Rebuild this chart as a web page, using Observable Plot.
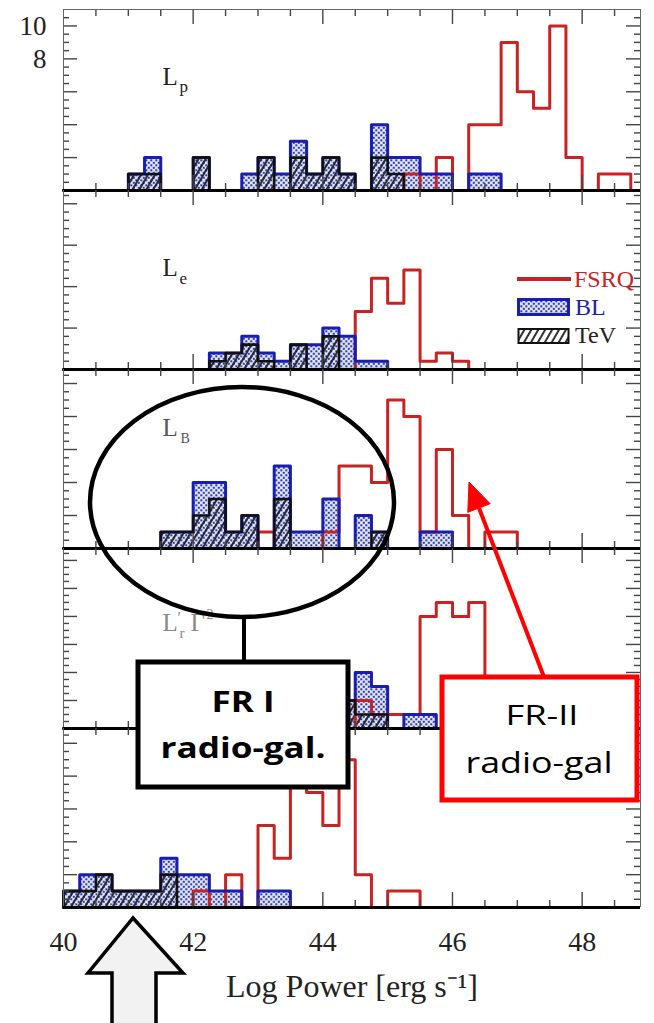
<!DOCTYPE html>
<html><head><meta charset="utf-8">
<script src="https://cdn.jsdelivr.net/npm/d3@7"></script>
<script src="https://cdn.jsdelivr.net/npm/@observablehq/plot@0.6"></script>
<style>
html,body{margin:0;padding:0;background:#fff;}
#root{position:relative;width:654px;height:1023px;overflow:hidden;background:#fff;}
</style></head><body>
<svg width="0" height="0" style="position:absolute">
<defs>
<pattern id="dots" width="5" height="5" patternUnits="userSpaceOnUse">
<rect width="5" height="5" fill="#dfe3f8"/>
<rect x="0.3" y="0.3" width="2" height="2" fill="#2f3ca6"/>
<rect x="2.8" y="2.8" width="2" height="2" fill="#2f3ca6"/>
</pattern>
<pattern id="hatch" width="6" height="6" patternUnits="userSpaceOnUse" patternTransform="rotate(30)">
<line x1="1" y1="0" x2="1" y2="6" stroke="#1a1a1a" stroke-width="1.8"/>
</pattern>
<pattern id="hatchW" width="6" height="6" patternUnits="userSpaceOnUse" patternTransform="rotate(30)">
<rect width="6" height="6" fill="#fff"/>
<line x1="1" y1="0" x2="1" y2="6" stroke="#1a1a1a" stroke-width="1.8"/>
</pattern>
</defs></svg>
<div id="root"></div>
<script>
// ---- Data: histogram counts per bin (bin start in log erg/s, bin width 0.25) ----
const binWidth = 0.25;
const binStarts = d3.range(40, 48.75, binWidth);

// Panel 1: L_p
const lpFSRQ = [[45.25,1],[45.75,2],[46.25,4],[46.5,4],[46.75,9],[47,6],[47.25,5],[47.5,10],[47.75,2],[48.25,1],[48.5,1]];
const lpBL   = [[41,1],[41.25,2],[42,2],[42.75,1],[43,2],[43.25,1],[43.5,3],[43.75,1],[44,2],[44.25,1],[44.75,4],[45,2],[45.25,2],[45.5,1],[45.75,1],[46.25,1],[46.5,1]];
const lpTeV  = [[41,1],[41.25,1],[42,2],[43,2],[43.5,2],[43.75,1],[44,2],[44.25,1],[44.75,2],[45,1]];
// Panel 2: L_e
const leFSRQ = [[44.5,7],[44.75,11],[45,8],[45.25,12],[45.5,1],[45.75,2],[46,1]];
const leBL   = [[42.25,2],[42.5,2],[42.75,4],[43,2],[43.25,1],[43.5,3],[43.75,3],[44,5],[44.25,4],[44.5,1],[44.75,1]];
const leTeV  = [[42.25,1],[42.5,2],[42.75,3],[43,1],[43.5,3],[44,4]];
// Panel 3: L_B
const lbFSRQ = [[43,1],[44,1],[44.25,5],[44.5,5],[44.75,4],[45,9],[45.25,8],[45.5,1],[45.75,6],[46,2],[46.5,1],[46.75,1]];
const lbBL   = [[41.5,1],[41.75,1],[42,4],[42.25,4],[42.5,1],[42.75,2],[43.25,5],[43.5,1],[43.75,1],[44,3],[44.5,2],[44.75,1],[45.5,1],[45.75,1]];
const lbTeV  = [[41.5,1],[41.75,1],[42,2],[42.25,3],[42.5,1],[42.75,2],[43.25,3],[44.75,1]];
// Panel 4: L'_r Gamma^2
const lrFSRQ = [[44.5,2],[44.75,1],[45,1],[45.25,1],[45.5,8],[45.75,9],[46,8],[46.25,9]];
const lrBL   = [[43,1],[43.5,2],[44,3],[44.25,2],[44.5,4],[44.75,3],[45.25,1],[45.5,1]];
const lrTeV  = [[43.5,1],[44,1],[44.25,2],[44.5,1],[44.75,1]];
// Panel 5
const ltFSRQ = [[42,1],[42.5,2],[43,5],[43.25,3],[43.5,8],[43.75,7],[44,5],[44.25,9],[44.5,2],[45,1],[45.25,1]];
const ltBL   = [[40,1],[40.25,2],[40.5,2],[40.75,1],[41,1],[41.25,1],[41.5,3],[41.75,2],[42,2],[42.25,1],[42.5,1],[43,1],[43.25,1]];
const ltTeV  = [[40,1],[40.25,1],[40.5,2],[40.75,1],[41,1],[41.25,1],[41.5,2]];

const xTickLabels = [40, 42, 44, 46, 48];
const xMajorTicks = [42, 44, 46, 48];
const yTickLabelsTop = [8, 10];
const xTitle = "Log Power [erg s\u207B\u00B9]";
const legendLabels = ["FSRQ", "BL", "TeV"];

// ---- Styling ----
const RED = "#c92222", BLUE = "#1a1eb0", BLACK = "#111";
const SERIF = "Liberation Serif, Times New Roman, serif";
const W = 654, ML = 63, MR = 14, XMAX = 48.9;
const innerW = W - ML - MR;

const panels = [
  {top: 9,   h: 181, ymax: 11,    minor: 0.5, major: 2, fsrq: lpFSRQ, bl: lpBL, tev: lpTeV,
   labels: [{t:"L", dx:99, dy:58, s:25, c:"#222"}, {t:"p", dx:116, dy:70, s:17, c:"#222"}]},
  {top: 190, h: 179, ymax: 21.6,  minor: 1,   major: 5, fsrq: leFSRQ, bl: leBL, tev: leTeV,
   labels: [{t:"L", dx:99, dy:68, s:25, c:"#222"}, {t:"e", dx:116, dy:81, s:17, c:"#222"}]},
  {top: 369, h: 179, ymax: 10.85, minor: 0.5, major: 2, fsrq: lbFSRQ, bl: lbBL, tev: lbTeV,
   labels: [{t:"L", dx:99, dy:49, s:25, c:"#555"}, {t:"B", dx:117, dy:64, s:14, c:"#555"}]},
  {top: 548, h: 180, ymax: 12.85, minor: 0.5, major: 2, fsrq: lrFSRQ, bl: lrBL, tev: lrTeV,
   labels: [{t:"L", dx:99, dy:65, s:25, c:"#888"}, {t:"\u2032", dx:114, dy:63, s:16, c:"#888"},
            {t:"r", dx:116, dy:79, s:15, c:"#888"}, {t:"\u0393", dx:127, dy:65, s:25, c:"#888"},
            {t:"2", dx:143, dy:61, s:14, c:"#888"}]},
  {top: 728, h: 179, ymax: 10.9,  minor: 0.5, major: 2, fsrq: ltFSRQ, bl: ltBL, tev: ltTeV,
   labels: []}
];

function fullSeries(pairs) {
  const m = new Map(pairs);
  return binStarts.map(x => ({x1: x, x2: x + binWidth, y: m.get(x) || 0}));
}
function stepPoints(series) {
  const pts = [{x: binStarts[0], y: 0}];
  series.forEach(d => pts.push({x: d.x1, y: d.y}));
  pts.push({x: binStarts[binStarts.length - 1] + binWidth, y: 0});
  return pts;
}

const root = document.getElementById("root");

panels.forEach((p, i) => {
  const last = i === panels.length - 1;
  const mb = last ? 1023 - (p.top + p.h) : 0;
  const H = p.h;
  const fsrq = fullSeries(p.fsrq), bl = fullSeries(p.bl), tev = fullSeries(p.tev);
  const xMinor = d3.range(40.5, XMAX, 0.5).filter(v => !xMajorTicks.includes(v));
  const yMajor = d3.range(p.major, p.ymax, p.major);
  const yMinor = d3.range(p.minor, p.ymax, p.minor).filter(v => Math.abs(v / p.major - Math.round(v / p.major)) > 1e-6);
  const tk = {stroke: "#444", strokeWidth: 1.4};
  const marks = [
    Plot.rect(bl.filter(d => d.y > 0), {x1: "x1", x2: "x2", y1: 0, y2: "y", fill: "url(#dots)"}),
    Plot.rect(tev.filter(d => d.y > 0), {x1: "x1", x2: "x2", y1: 0, y2: "y", fill: "url(#hatch)"}),
    Plot.line(stepPoints(fsrq), {x: "x", y: "y", curve: "step-after", stroke: RED, strokeWidth: 3}),
    Plot.line(stepPoints(bl), {x: "x", y: "y", curve: "step-after", stroke: BLUE, strokeWidth: 3}),
    Plot.line(stepPoints(tev), {x: "x", y: "y", curve: "step-after", stroke: BLACK, strokeWidth: 2.6}),
    // inward ticks
    Plot.tickX(xMinor, {x: d => d, insetBottom: H - 7, ...tk}),
    Plot.tickX(xMajorTicks, {x: d => d, insetBottom: H - 15, ...tk}),
    Plot.tickX(xMinor, {x: d => d, insetTop: H - 7, ...tk}),
    Plot.tickX(xMajorTicks, {x: d => d, insetTop: H - 15, ...tk}),
    Plot.tickY(yMinor, {y: d => d, insetRight: innerW - 6, ...tk}),
    Plot.tickY(yMajor, {y: d => d, insetRight: innerW - 14, ...tk}),
    Plot.tickY(yMinor, {y: d => d, insetLeft: innerW - 6, ...tk}),
    Plot.tickY(yMajor, {y: d => d, insetLeft: innerW - 14, ...tk}),
    Plot.ruleX([40, XMAX], {stroke: "#666", strokeWidth: 1}),
    Plot.ruleY([0], {stroke: "#000", strokeWidth: 3}),
    ...p.labels.map(l => Plot.text([l.t], {text: d => d, frameAnchor: "top-left", dx: l.dx, dy: l.dy,
      lineAnchor: "top", textAnchor: "start", fontSize: l.s, fontFamily: SERIF, fill: l.c}))
  ];
  if (i === 0) {
    marks.push(Plot.ruleY([p.ymax], {stroke: "#666", strokeWidth: 1}));
    marks.push(Plot.axisY(yTickLabelsTop, {tickSize: 0, tickPadding: 17, fontSize: 27, fontFamily: SERIF, label: null, tickFormat: d => d, fill: "#222"}));
  } else {
    marks.push(Plot.axisY([], {label: null, tickSize: 0}));
  }
  if (last) {
    marks.push(Plot.axisX(xTickLabels, {tickSize: 0, tickPadding: 24, fontSize: 28, fontFamily: SERIF, label: null, tickFormat: d => d, fill: "#222"}));
    marks.push(Plot.text([xTitle], {text: d => d, frameAnchor: "bottom", dy: 89, fontSize: 32, fontFamily: SERIF, fill: "#222"}));
  } else {
    marks.push(Plot.axisX([], {label: null, tickSize: 0}));
  }
  const chart = Plot.plot({
    width: W, height: H + mb,
    marginLeft: ML, marginRight: MR, marginTop: 0, marginBottom: mb,
    x: {domain: [40, XMAX]},
    y: {domain: [0, p.ymax]},
    style: {position: "absolute", left: "0px", top: p.top + "px", background: "transparent", overflow: "visible"},
    marks
  });
  root.appendChild(chart);
});

// ---- Legend (panel 2) and annotations ----
const ns = "http://www.w3.org/2000/svg";
const ov = document.createElementNS(ns, "svg");
ov.setAttribute("width", 654); ov.setAttribute("height", 1023);
ov.style.position = "absolute"; ov.style.left = "0px"; ov.style.top = "0px";
ov.innerHTML = `
 <line x1="517" y1="279" x2="571" y2="279" stroke="${RED}" stroke-width="4"/>
 <text x="574" y="287" font-family="${SERIF}" font-size="24" fill="${RED}">${legendLabels[0]}</text>
 <rect x="518.5" y="299.5" width="50" height="15" fill="url(#dots)" stroke="${BLUE}" stroke-width="3"/>
 <text x="575" y="315" font-family="${SERIF}" font-size="24" fill="${BLUE}">${legendLabels[1]}</text>
 <rect x="518.5" y="329" width="50" height="14" fill="url(#hatchW)" stroke="${BLACK}" stroke-width="2"/>
 <text x="575" y="343" font-family="${SERIF}" font-size="24" fill="#222">${legendLabels[2]}</text>

 <ellipse cx="242" cy="502" rx="152" ry="115" fill="none" stroke="#000" stroke-width="4.5"/>
 <line x1="244" y1="617" x2="244" y2="662" stroke="#000" stroke-width="4"/>
 <rect x="138" y="662" width="210" height="125" fill="#fff" stroke="#000" stroke-width="5"/>
 <text x="243" y="712" text-anchor="middle" font-family="Open Sans, sans-serif" font-weight="bold" font-size="28" textLength="63" lengthAdjust="spacingAndGlyphs">FR I</text>
 <text x="243" y="758" text-anchor="middle" font-family="Open Sans, sans-serif" font-weight="bold" font-size="29" textLength="165" lengthAdjust="spacingAndGlyphs">radio-gal.</text>

 <line x1="544" y1="677" x2="479" y2="508" stroke="#f00" stroke-width="4"/>
 <polygon points="469,482 490.2,503.7 467.8,512.3" fill="#f00" stroke="#f00" stroke-width="1"/>
 <rect x="442" y="677" width="195" height="123" fill="#fff" stroke="#f00" stroke-width="5"/>
 <text x="542" y="725" text-anchor="middle" font-family="Open Sans, sans-serif" font-size="28" textLength="73" lengthAdjust="spacingAndGlyphs">FR-II</text>
 <text x="539" y="773" text-anchor="middle" font-family="Open Sans, sans-serif" font-size="29" textLength="147" lengthAdjust="spacingAndGlyphs">radio-gal</text>

 <path d="M133,918 L183,973 L156,973 L156,1030 L112,1030 L112,973 L88,973 Z" fill="#f2f2f2" stroke="#000" stroke-width="3.5" stroke-linejoin="miter"/>
`;
root.appendChild(ov);
</script>
</body></html>
